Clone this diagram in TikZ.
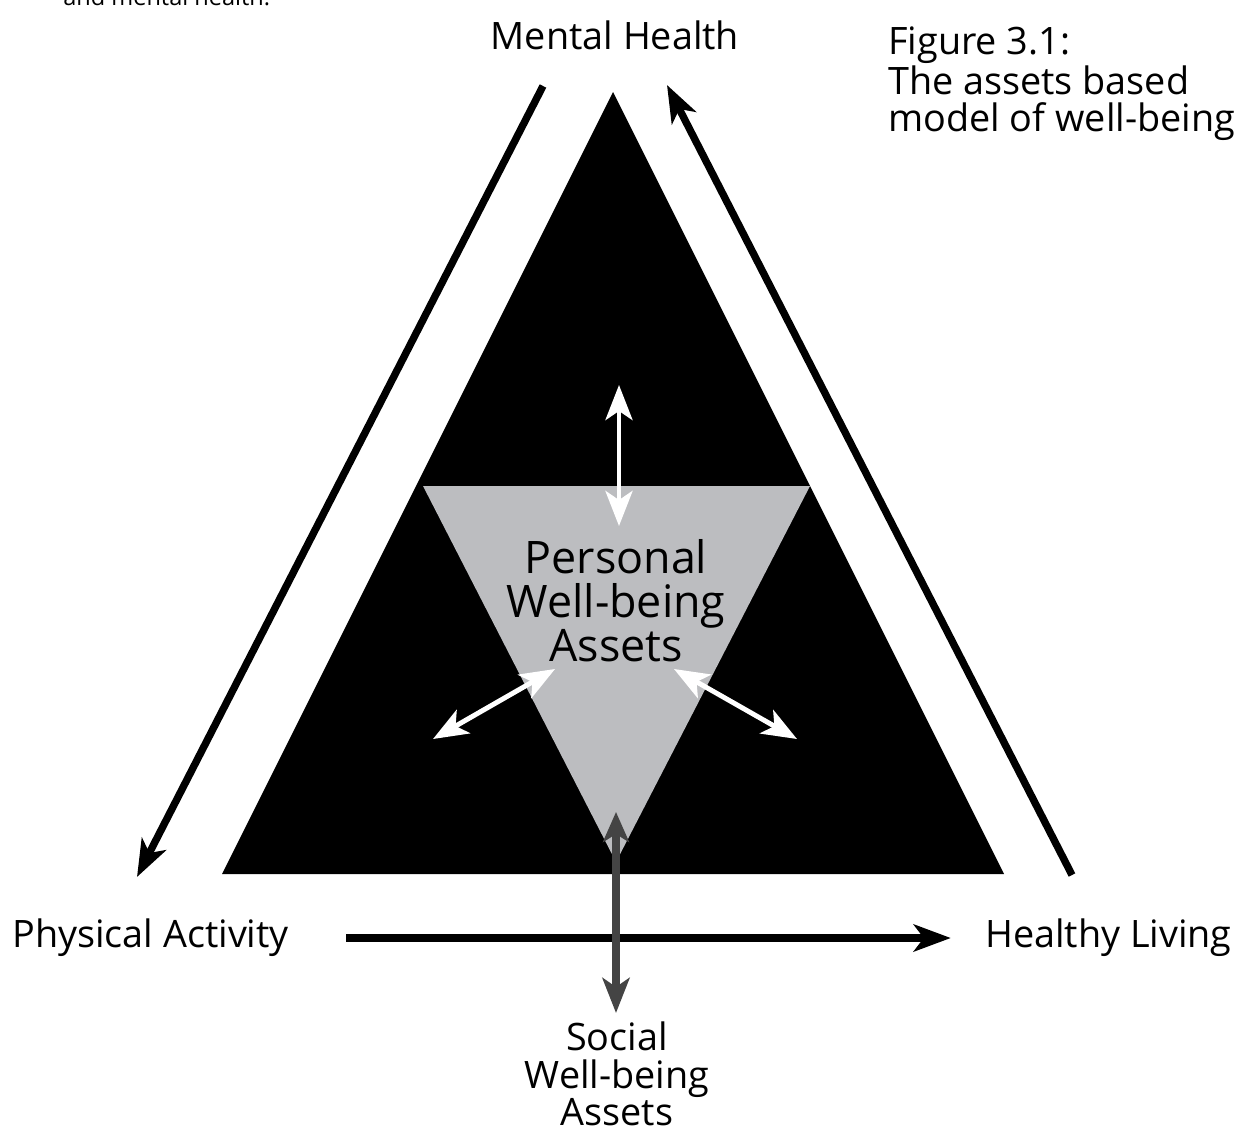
\documentclass[tikz,border=0pt]{standalone}
\usepackage{fontspec}
\setmainfont{Open Sans}
\usetikzlibrary{arrows.meta}
\usetikzlibrary{positioning}
\definecolor{assetgrey}{RGB}{188,189,192}
\definecolor{socialgrey}{RGB}{68,68,68}

\begin{document}
\begin{tikzpicture}[x=0.02cm,y=-0.02cm,
  label node/.style={font=\fontsize{21.5}{21.2}\selectfont,align=center,inner sep=0pt},
  asset node/.style={font=\fontsize{25.5}{25}\selectfont,align=center,inner sep=0pt},
  black arrow/.style={-{Stealth[length=0.74cm,width=0.54cm,inset=0.2cm]},line width=4.2pt},
  white arrow/.style={{Stealth[length=0.7cm,width=0.54cm,inset=0.18cm]}-{Stealth[length=0.7cm,width=0.54cm,inset=0.18cm]},white,line width=2.8pt},
  grey arrow/.style={{Stealth[length=0.6cm,width=0.52cm,inset=0.16cm]}-{Stealth[length=0.7cm,width=0.54cm,inset=0.18cm]},socialgrey,line width=4.8pt}]
		\useasboundingbox (0,0) rectangle (1238,1140);

		% the two triangles
		\coordinate (apex) at (613,92);
		\coordinate (baseL) at (222,874);
		\coordinate (baseR) at (1004,874);
		\fill (apex) -- (baseL) -- (baseR) -- cycle;
		\fill[assetgrey] (423,486) -- (810,486) -- (616,862) -- cycle;

		% labels
		\node[font=\fontsize{13.4}{15}\selectfont,anchor=base west,inner sep=0pt] (cut) at (63,5) {and mental health.};
		\node[label node] (mental) at (615,35) {Mental Health};
		\node[label node,align=left,anchor=west] (fig) at (888,84) {Figure 3.1:\\The assets based\\model of well-being};
		\node[label node,anchor=west] (phys) at (12,938) {Physical Activity};
		\node[label node,anchor=east] (healthy) at (1232,938) {Healthy Living};
		\node[label node] (social) at (617,1074) {Social\\Well-being\\Assets};
		\node[asset node] (personal) at (616,601) {Personal\\Well-being\\Assets};

		% arrow ends
		\coordinate (mh_l) at (543,86);
		\coordinate (pa_t) at (137,877);
		\coordinate (hl_b) at (1072,875);
		\coordinate (mh_r) at (667,85);
		\coordinate (up_t) at (619,385);
		\coordinate (up_b) at (619,526);
		\coordinate (lf_o) at (433,739);
		\coordinate (lf_i) at (555,669);
		\coordinate (rt_i) at (674,669);
		\coordinate (rt_o) at (797,739);
		\coordinate (sw_t) at (616,812);
		\coordinate (sw_b) at (616,1013);

		\path[black arrow]
			(mh_l) edge (pa_t)
			(hl_b) edge (mh_r)
			(phys) edge [shorten <=1.14cm,shorten >=0.68cm] (healthy);
		\path[white arrow]
			(up_t) edge (up_b)
			(lf_o) edge (lf_i)
			(rt_i) edge (rt_o);
		\path[grey arrow]
			(sw_t) edge (sw_b);
\end{tikzpicture}
\end{document}
